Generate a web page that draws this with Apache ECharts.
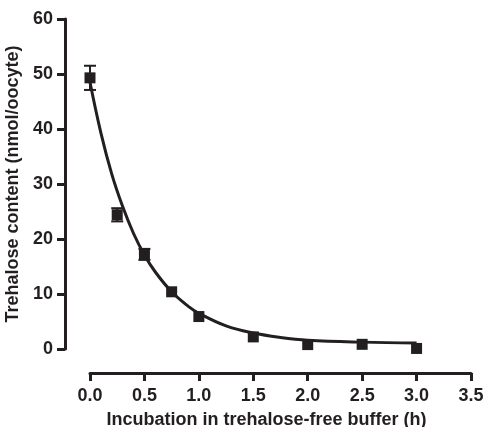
<!DOCTYPE html>
<html>
<head>
<meta charset="utf-8">
<script src="https://cdn.jsdelivr.net/npm/echarts@6/dist/echarts.min.js"></script>
<style>
  html, body { margin: 0; padding: 0; background: #fff; }
  #chart { width: 485px; height: 427px; }
</style>
</head>
<body>
<div id="chart"></div>
<script>
// measured points (h, nmol/oocyte) and SEM
const hours = [0, 0.25, 0.5, 0.75, 1.0, 1.5, 2.0, 2.5, 3.0]
const content = [49.3, 24.4, 17.2, 10.4, 5.9, 2.2, 0.8, 0.85, 0.1]
const sem = [2.2, 1.2, 1.0, 0, 0, 0, 0, 0, 0]

// fitted decay curve
const fitHours = [0, 0.1, 0.2, 0.3, 0.4, 0.5, 0.6, 0.75, 0.9, 1.0, 1.25, 1.5, 1.75, 2.0, 2.5, 3.0]
const fitContent = [48.5, 39.3, 31.8, 25.9, 21.0, 17.1, 14.0, 10.4, 7.8, 6.5, 4.2, 2.9, 2.1, 1.6, 1.25, 1.1]

const ink = '#231f20'
const font = '"Liberation Sans", Arial, sans-serif'

const chart = echarts.init(document.getElementById('chart'))

chart.setOption({
  backgroundColor: '#fff',
  animation: false,
  grid: { left: 90, right: 14, top: 19, bottom: 78, outerBoundsMode: 'none' },
  xAxis: {
    type: 'value',
    min: 0,
    max: 3.5,
    interval: 0.5,
    offset: 24,
    name: 'Incubation in trehalose-free buffer (h)',
    nameLocation: 'middle',
    nameGap: 38,
    nameTextStyle: { color: ink, fontFamily: font, fontWeight: 'bold', fontSize: 18, padding: [0, 28, 0, 0] },
    axisLine: { onZero: false, lineStyle: { color: ink, width: 3 } },
    axisTick: { length: 8, lineStyle: { color: ink, width: 3 } },
    axisLabel: {
      color: ink, fontFamily: font, fontWeight: 'bold', fontSize: 18, margin: 14,
      formatter: (v) => v.toFixed(1)
    },
    splitLine: { show: false }
  },
  yAxis: {
    type: 'value',
    min: 0,
    max: 60,
    interval: 10,
    offset: 25,
    name: 'Trehalose content (nmol/oocyte)',
    nameLocation: 'middle',
    nameGap: 39,
    nameTextStyle: { color: ink, fontFamily: font, fontWeight: 'bold', fontSize: 18 },
    axisLine: { show: true, onZero: false, lineStyle: { color: ink, width: 3 } },
    axisTick: { show: true, length: 8, lineStyle: { color: ink, width: 3 } },
    axisLabel: { color: ink, fontFamily: font, fontWeight: 'bold', fontSize: 18, margin: 12 },
    splitLine: { show: false }
  },
  series: [
    {
      name: 'fit',
      type: 'line',
      data: fitHours.map((h, i) => [h, fitContent[i]]),
      smooth: 0.4,
      symbol: 'none',
      lineStyle: { color: ink, width: 3 },
      z: 3
    },
    {
      name: 'content',
      type: 'scatter',
      data: hours.map((h, i) => [h, content[i]]),
      symbol: 'rect',
      symbolSize: 11,
      itemStyle: { color: ink, opacity: 1 },
      z: 4
    },
    {
      name: 'sem',
      type: 'custom',
      data: hours.map((h, i) => [h, content[i] - sem[i], content[i] + sem[i]]),
      renderItem: (params, api) => {
        const lo = api.coord([api.value(0), api.value(1)])
        const hi = api.coord([api.value(0), api.value(2)])
        if (Math.abs(lo[1] - hi[1]) < 1) return null
        const half = 6
        const style = { stroke: ink, lineWidth: 2 }
        return {
          type: 'group',
          children: [
            { type: 'line', shape: { x1: lo[0], y1: lo[1], x2: hi[0], y2: hi[1] }, style },
            { type: 'line', shape: { x1: lo[0] - half, y1: lo[1], x2: lo[0] + half, y2: lo[1] }, style },
            { type: 'line', shape: { x1: hi[0] - half, y1: hi[1], x2: hi[0] + half, y2: hi[1] }, style }
          ]
        }
      },
      z: 5
    }
  ]
})
</script>
</body>
</html>
